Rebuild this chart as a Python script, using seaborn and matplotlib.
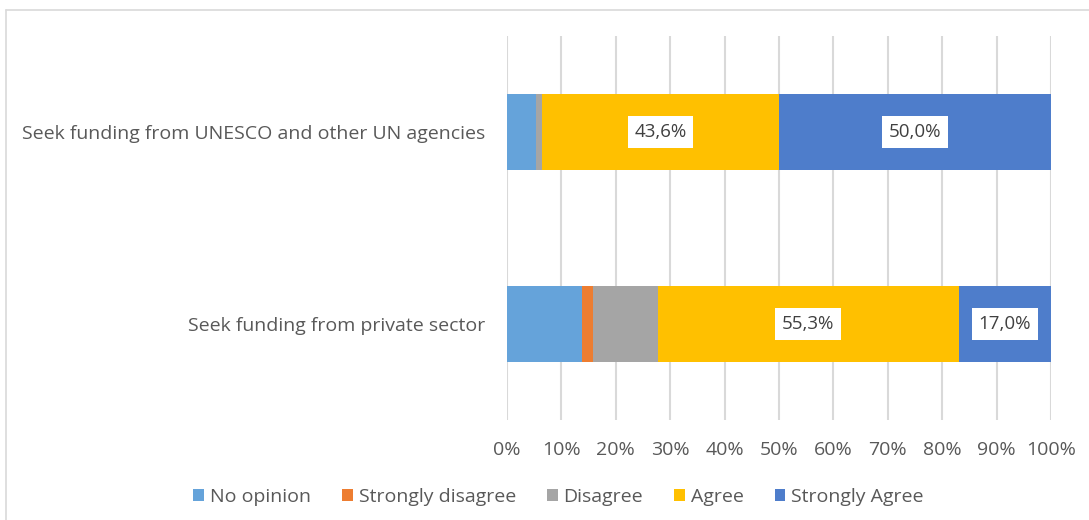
import matplotlib
matplotlib.use("Agg")
import matplotlib.pyplot as plt
import seaborn as sns
import pandas as pd
import numpy as np
from matplotlib.patches import Patch

categories = ["Seek funding from UNESCO and other UN agencies",
              "Seek funding from private sector"]
series = ["No opinion", "Strongly disagree", "Disagree", "Agree", "Strongly Agree"]
no_opinion = [5.3, 13.8]
strongly_disagree = [0.0, 2.0]
disagree = [1.1, 11.9]
agree = [43.6, 55.3]
strongly_agree = [50.0, 17.0]
tick_labels = ["0%", "10%", "20%", "30%", "40%", "50%", "60%", "70%", "80%", "90%", "100%"]

colors = ["#65A3DA", "#ED7D31", "#A5A5A5", "#FFC000", "#4E7DCB"]

sns.set_theme(style="white")
plt.rcParams["font.family"] = ["Open Sans", "DejaVu Sans"]

values = [no_opinion, strongly_disagree, disagree, agree, strongly_agree]
df = pd.DataFrame({s: v for s, v in zip(series, values)})
df["category"] = categories
cum = df[series].cumsum(axis=1)

fig = plt.figure(figsize=(10.89, 5.2), dpi=100)
ax = fig.add_axes([507/1089, 1 - 420/520, (1051-507)/1089, (420-36)/520])

text_col = "#595959"
fs = 14
for i in range(len(series) - 1, -1, -1):
    d = pd.DataFrame({"category": categories, "value": cum[series[i]].values})
    sns.barplot(data=d, x="value", y="category", orient="h", color=colors[i],
                width=0.40, saturation=1, ax=ax, order=categories, linewidth=0)

# data labels
for j, cat in enumerate(categories):
    for i, s in enumerate(series):
        v = df.loc[j, s]
        if v >= 15:
            left = cum.loc[j, s] - v
            ax.text(left + v / 2, j, f"{v:.1f}%".replace(".", ","), ha="center", va="center",
                    fontsize=13.5, color="#404040",
                    bbox=dict(boxstyle="square,pad=0.35", fc="white", ec="none"))

ax.set_xlim(0, 100)
ax.set_ylim(1.5, -0.5)
ax.set_xticks(np.arange(0, 101, 10))
ax.set_xticklabels(tick_labels, fontsize=fs, color=text_col)
ax.tick_params(axis="y", labelsize=fs, labelcolor=text_col, length=0, pad=16)
ax.tick_params(axis="x", length=0, pad=15)
ax.set_xlabel("")
ax.set_ylabel("")
ax.xaxis.grid(True, color="#D9D9D9", linewidth=1.5)
ax.set_axisbelow(True)
for sp in ax.spines.values():
    sp.set_visible(False)

handles = [Patch(facecolor=c, edgecolor="none") for c in colors]
fig.legend(handles, series, loc="center", bbox_to_anchor=(0.513, 1 - 497/520), ncol=5,
           frameon=False, fontsize=fs, handlelength=0.55, handleheight=0.55,
           handletextpad=0.3, columnspacing=1.6, labelcolor=text_col)

# outer border
fig.add_artist(plt.Line2D([6/1089, 6/1089], [0, 1 - 10/520], transform=fig.transFigure,
                          color="#D9D9D9", linewidth=1.2))
fig.add_artist(plt.Line2D([6/1089, 1], [1 - 10/520, 1 - 10/520], transform=fig.transFigure,
                          color="#D9D9D9", linewidth=1.2))

fig.savefig("out.png", dpi=100)
